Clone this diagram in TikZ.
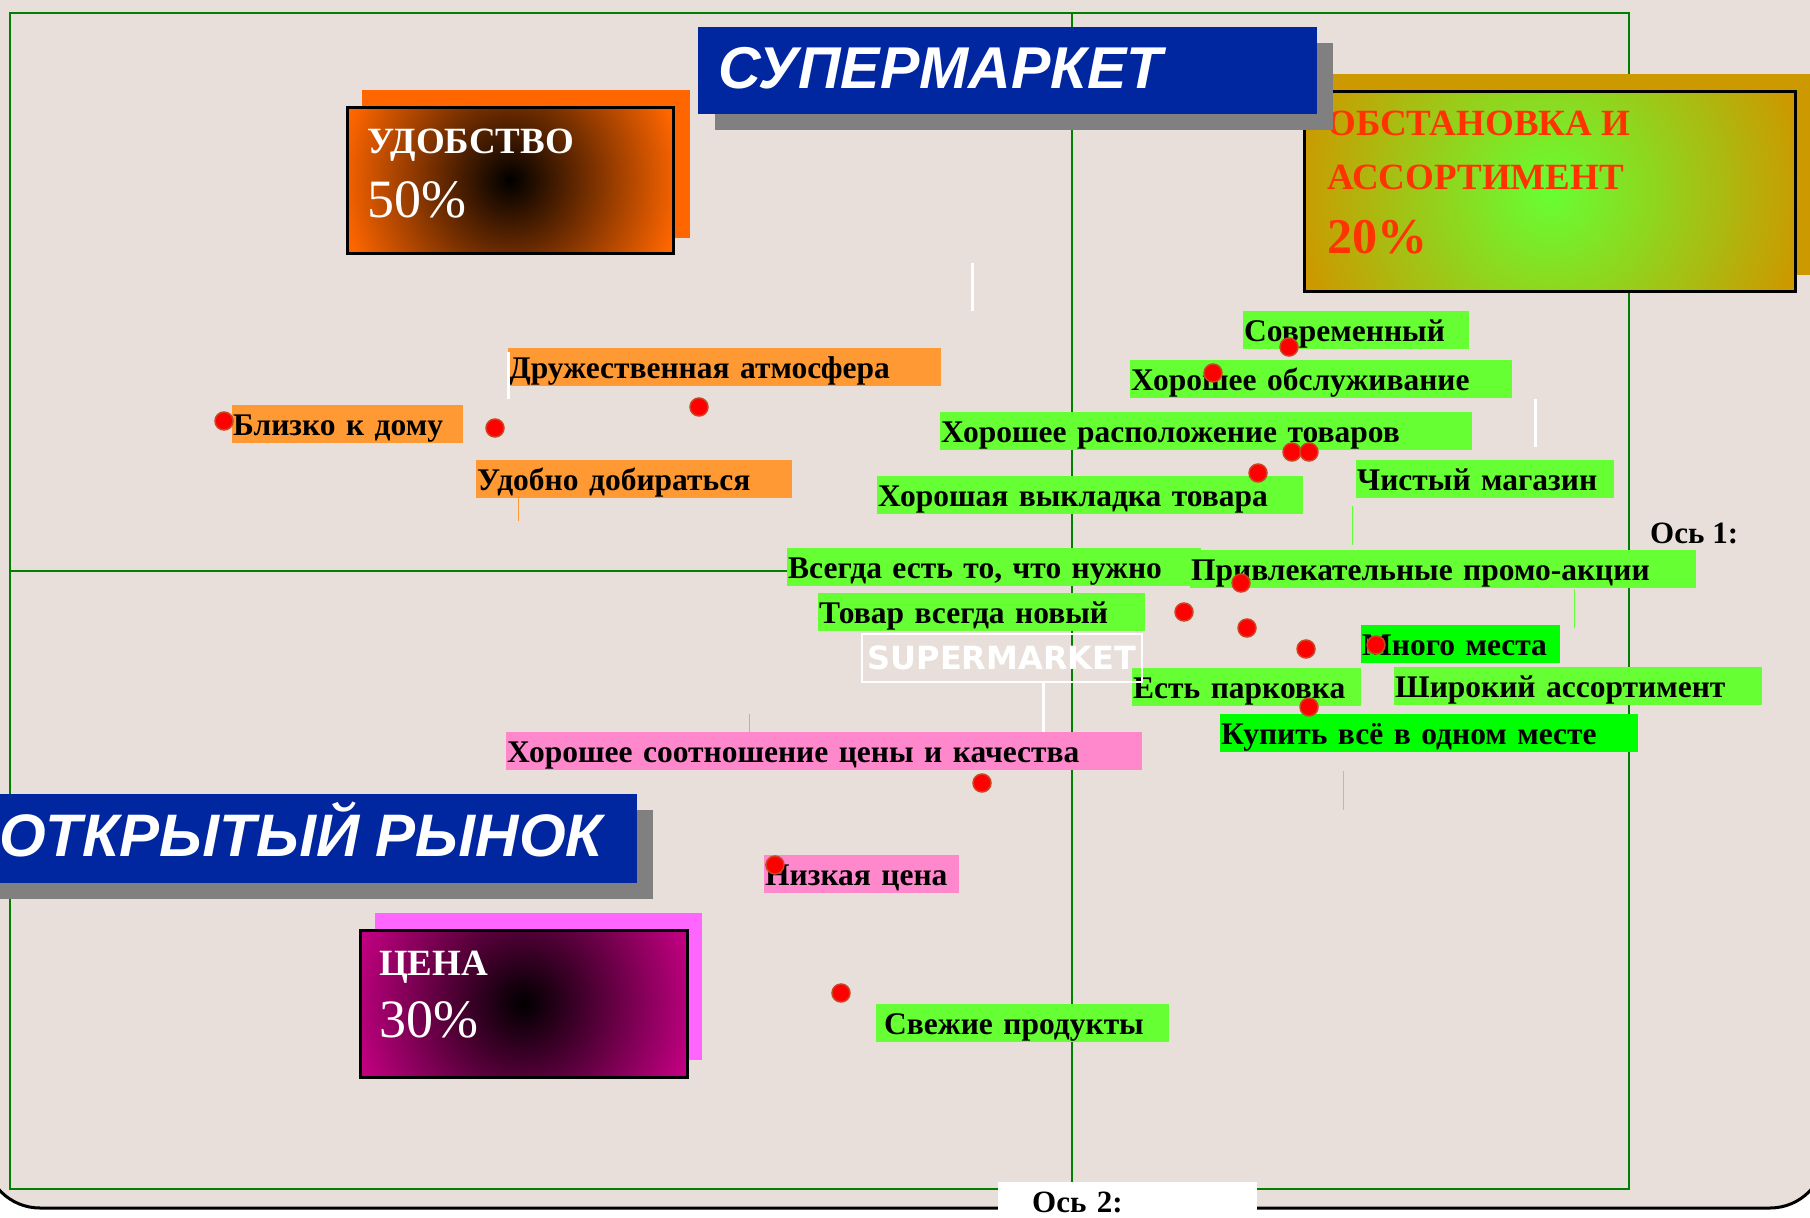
\documentclass[tikz,border=0pt]{standalone}
\usepackage{fontspec}
\setmainfont{Liberation Serif}
\newfontfamily\headfont{Liberation Sans}
\newfontfamily\logofont{DejaVu Sans}

\definecolor{bgbeige}{RGB}{232,223,218}
\definecolor{framegreen}{RGB}{0,128,0}
\definecolor{titleblue}{RGB}{0,38,160}
\definecolor{shadowgray}{RGB}{128,128,128}
\definecolor{hotorange}{RGB}{255,102,0}
\definecolor{lblorange}{RGB}{255,153,51}
\definecolor{lblpink}{RGB}{255,136,204}
\definecolor{lblgreen}{RGB}{102,255,51}
\definecolor{brightgreen}{RGB}{0,255,0}
\definecolor{hotpink}{RGB}{255,102,255}
\definecolor{deepmagenta}{RGB}{192,0,128}
\definecolor{shopgold}{RGB}{204,153,0}
\definecolor{redtext}{RGB}{255,51,0}
\definecolor{dotrim}{RGB}{204,68,34}

\tikzset{
  lbl/.style={fill=#1, anchor=north west, inner xsep=1pt, inner ysep=0pt,
    text height=30pt, text depth=8pt, align=left,
    font=\bfseries\fontsize{31.5}{33}\selectfont},
  dot/.style={circle, fill=red, draw=dotrim, line width=1.5pt,
    minimum size=18pt, inner sep=0pt},
  stub/.style={white, line width=3pt},
  bigtext/.style={anchor=base west, inner sep=0pt, text=white},
}

\begin{document}
\begin{tikzpicture}[x=1pt, y=-1pt]
    \useasboundingbox (0,0) rectangle (1810,1218);
    % 背景
    \fill[white] (0,0) rectangle (1810,1218);
    \draw[fill=bgbeige, line width=3pt, rounded corners=55pt] (-15,-100) rectangle (1825,1208);

    % 枠と軸
    \draw[framegreen, line width=2.5pt] (10,13) rectangle (1629,1189);
    \draw[framegreen, line width=2.5pt] (1072,13) -- (1072,1189);
    \draw[framegreen, line width=2.5pt] (10,571) -- (1072,571);

    % 三つの要素
    \fill[hotorange] (362,90) rectangle (690,238);
    \begin{scope}
      \clip (347,107) rectangle (673,253);
      \fill[hotorange] (347,107) rectangle (673,253);
      \shade[inner color=black, outer color=hotorange] (510,180) circle (172);
    \end{scope}
    \draw[line width=3pt] (347,107) rectangle (673,253);
    \node[bigtext, font=\bfseries\fontsize{37}{40}\selectfont] (udobstvo) at (367,153) {УДОБСТВО};
    \node[bigtext, font=\fontsize{54}{58}\selectfont] (udobpct) at (367,217) {50\%};

    \fill[hotpink] (375,913) rectangle (702,1060);
    \begin{scope}
      \clip (360,930) rectangle (687,1077);
      \fill[deepmagenta] (360,930) rectangle (687,1077);
      \shade[inner color=black, outer color=deepmagenta] (523,1003) circle (172);
    \end{scope}
    \draw[line width=3pt] (360,930) rectangle (687,1077);
    \node[bigtext, font=\bfseries\fontsize{37}{40}\selectfont] (tsena) at (379,975) {ЦЕНА};
    \node[bigtext, font=\fontsize{54}{58}\selectfont] (tsenapct) at (379,1037) {30\%};

    \fill[shopgold] (1320,74) rectangle (1830,275);
    \begin{scope}
      \clip (1304,91) rectangle (1795,291);
      \fill[shopgold] (1304,91) rectangle (1795,291);
      \shade[inner color=lblgreen, outer color=shopgold] (1550,191) circle (255);
    \end{scope}
    \draw[line width=3pt] (1304,91) rectangle (1795,291);
    \node[bigtext, text=redtext, font=\bfseries\fontsize{37}{40}\selectfont] (obst1) at (1327,135) {ОБСТАНОВКА И};
    \node[bigtext, text=redtext, font=\bfseries\fontsize{37}{40}\selectfont] (obst2) at (1327,189) {АССОРТИМЕНТ};
    \node[bigtext, text=redtext, font=\bfseries\fontsize{50}{54}\selectfont] (obstpct) at (1327,253) {20\%};

    % 見出し
    \fill[shadowgray] (715,43) rectangle (1333,130);
    \fill[titleblue] (698,27) rectangle (1317,114);
    \node[bigtext, font=\headfont\bfseries\itshape\fontsize{59}{63}\selectfont] (super) at (718,88) {СУПЕРМАРКЕТ};

    \fill[shadowgray] (-5,810) rectangle (653,899);
    \fill[titleblue] (-5,794) rectangle (637,883);
    \node[bigtext, font=\headfont\bfseries\itshape\fontsize{60}{64}\selectfont] (rynok) at (-1,856) {ОТКРЫТЫЙ РЫНОК};

    % 細い線
    \draw[stub] (972,263) -- (972,311);
    \draw[stub] (1535,399) -- (1535,447);
    \draw[stub] (1043,683) -- (1043,732);
    \draw[lblgreen, line width=1pt] (1352,506) -- (1352,545);
    \draw[lblgreen, line width=1pt] (1574,589) -- (1574,628);
    \draw[lblgreen, line width=1pt] (1343,771) -- (1343,810);

    % ラベル
    \node[lbl=lblorange, text width=431pt] (druzh) at (508,348) {Дружественная атмосфера};
    \node[lbl=lblorange, text width=229pt] (blizko) at (232,405) {Близко к дому};
    \node[lbl=lblorange, text width=314pt] (udobno) at (476,460) {Удобно добираться};
    \node[lbl=lblpink, text width=634pt] (sootn) at (506,732) {Хорошее соотношение цены и качества};
    \node[lbl=lblpink, text width=193pt] (nizkaya) at (764,855) {Низкая цена};
    \node[lbl=lblgreen, text width=224pt] (sovrem) at (1243,311) {Современный};
    \node[lbl=lblgreen, text width=380pt] (obsluzh) at (1130,360) {Хорошее обслуживание};
    \node[lbl=lblgreen, text width=530pt] (raspol) at (940,412) {Хорошее расположение товаров};
    \node[lbl=lblgreen, text width=256pt] (chisty) at (1356,460) {Чистый магазин};
    \node[lbl=lblgreen, text width=424pt] (vykladka) at (877,476) {Хорошая выкладка товара};
    \node[lbl=lblgreen, text width=412pt] (vsegda) at (787,548) {Всегда есть то, что нужно};
    \node[lbl=lblgreen, text width=504pt] (promo) at (1190,550) {Привлекательные промо-акции};
    \node[lbl=lblgreen, text width=325pt] (novy) at (818,593) {Товар всегда новый};
    \node[lbl=brightgreen, text width=197pt] (mesta) at (1361,625) {Много места};
    \node[lbl=lblgreen, text width=227pt] (parkovka) at (1132,668) {Есть парковка};
    \node[lbl=lblgreen, text width=366pt] (shiroky) at (1394,667) {Широкий ассортимент};
    \node[lbl=brightgreen, text width=416pt] (kupit) at (1220,714) {Купить всё в одном месте};
    \node[lbl=lblgreen, inner xsep=4pt, text width=285pt] (svezhie) at (876,1004) {\hspace{4pt}Свежие продукты};

    \draw[stub] (druzh.north west) ++(0,4) -- ++(0,47);
    \draw[lblorange, line width=1pt] (udobno.south west) ++(42,0) -- ++(0,23);
    \draw[lblpink, line width=1pt] (sootn.north west) ++(243,0) -- ++(0,-18);

    \node[draw=white, line width=2pt, anchor=north west, minimum width=280pt, minimum height=48pt,
      inner sep=0pt, text=white, font=\logofont\bfseries\fontsize{32}{34}\selectfont] (logo) at (861,633) {SUPERMARKET};

    % 点
    \node[dot] (p1) at (224,421) {};
    \node[dot] (p2) at (495,428) {};
    \node[dot] (p3) at (699,407) {};
    \node[dot] (p4) at (1289,347) {};
    \node[dot] (p5) at (1213,373) {};
    \node[dot] (p6) at (1292,452) {};
    \node[dot] (p7) at (1309,452) {};
    \node[dot] (p8) at (1258,473) {};
    \node[dot] (p9) at (1241,583) {};
    \node[dot] (p10) at (1184,612) {};
    \node[dot] (p11) at (1247,628) {};
    \node[dot] (p12) at (1306,649) {};
    \node[dot] (p13) at (1376,645) {};
    \node[dot] (p14) at (1309,707) {};
    \node[dot] (p15) at (982,783) {};
    \node[dot] (p16) at (775,865) {};
    \node[dot] (p17) at (841,993) {};

    % 軸の名前
    \node[anchor=base west, inner sep=0pt, font=\bfseries\fontsize{31}{34}\selectfont] (axis1) at (1650,543) {Ось 1:};
    \node[fill=white, anchor=north west, inner xsep=34pt, inner ysep=0pt, text width=191pt,
      text height=30pt, text depth=6pt, align=left, font=\bfseries\fontsize{31}{34}\selectfont] (axis2) at (998,1182) {Ось 2:};

  \end{tikzpicture}
\end{document}
